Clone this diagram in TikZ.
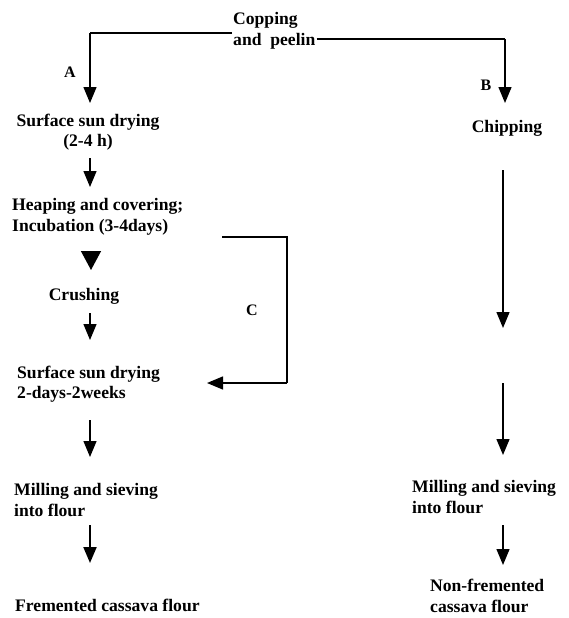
\documentclass[tikz,border=0pt]{standalone}
\usepackage{fontspec}
\setmainfont{Liberation Serif}
\usetikzlibrary{arrows.meta}
\begin{document}
\begin{tikzpicture}[x=1pt,y=-1pt,
  txt/.style={font=\fontsize{17.6}{20.5}\selectfont\bfseries, inner sep=1pt},
  lbl/.style={font=\fontsize{16}{18}\selectfont\bfseries, inner sep=0pt},
  arr/.style={line width=1.4pt, -{Triangle[width=13pt,length=16pt]}},
  bigarr/.style={line width=1.4pt, -{Triangle[width=20pt,length=19pt]}},
  ln/.style={line width=1.4pt}]
\useasboundingbox (0,0) rectangle (568,618);
% nodes
\node[txt, align=left, anchor=west] (cp) at (232,31) {Copping\\and\ \ peelin};
\node[lbl] (la) at (70,72) {A};
\node[lbl] (lb) at (486,85) {B};
\node[lbl] (lc) at (252,310) {C};
\node[txt, align=center] (s1) at (88,132) {Surface sun drying\\(2-4 h)};
\node[txt] (chip) at (507,128) {Chipping};
\node[txt, align=left, anchor=west] (heap) at (11,217) {Heaping and covering;\\Incubation (3-4days)};
\node[txt] (crush) at (84,296) {Crushing};
\node[txt, align=left, anchor=west] (s2) at (16,384) {Surface sun drying\\2-days-2weeks};
\node[txt, align=left, anchor=west] (mill1) at (13,500) {Milling and sieving\\into flour};
\node[txt, anchor=west] (ferm) at (14,605) {Fremented cassava flour};
\node[txt, align=left, anchor=west] (mill2) at (411,497) {Milling and sieving\\into flour};
\node[txt, align=left, anchor=west] (nonf) at (429,596) {Non-fremented\\cassava flour};
% coordinates
\coordinate (aTop) at (90,33);
\coordinate (aTip) at (90,103);
\coordinate (bTop) at (505,39);
\coordinate (bTip) at (505,103);
\coordinate (cA) at (222,237);
\coordinate (cB) at (287,237);
\coordinate (cC) at (287,383);
\coordinate (cTip) at (207,383);
\coordinate (r1a) at (503,170);
\coordinate (r1b) at (503,328);
\coordinate (r2a) at (503,383);
\coordinate (r2b) at (503,455);
% connectors
\draw[ln] (cp.west |- aTop) -- (aTop);
\draw[arr] (aTop) -- (aTip);
\draw[ln] (cp.east |- bTop) -- (bTop);
\draw[arr] (bTop) -- (bTip);
\draw[arr] (90,158) -- (90,187);
\draw[bigarr] (91,251) -- (91,270);
\draw[arr] (90,313) -- (90,340);
\draw[ln] (cA) -- (cB) -- (cC);
\draw[arr] (cC) -- (cTip);
\draw[arr] (90,420) -- (90,457);
\draw[arr, line width=2pt] (90,525) -- (90,563);
\draw[arr] (r1a) -- (r1b);
\draw[arr] (r2a) -- (r2b);
\draw[arr] (503,525) -- (503,565);
\end{tikzpicture}
\end{document}
